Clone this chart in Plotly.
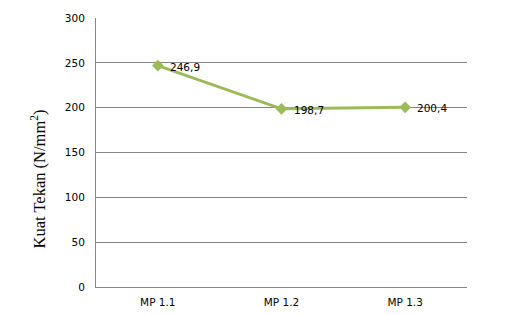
import plotly.graph_objects as go

categories = ["MP 1.1", "MP 1.2", "MP 1.3"]
values = [246.9, 198.7, 200.4]
labels = ["246,9", "198,7", "200,4"]
y_ticks = [0, 50, 100, 150, 200, 250, 300]

xs = list(range(len(categories)))

fig = go.Figure()
fig.add_trace(go.Scatter(
    x=xs, y=values,
    mode="lines+markers",
    line=dict(color="#9BBB59", width=3),
    marker=dict(symbol="diamond", size=9, color="#9BBB59"),
    cliponaxis=False,
    showlegend=False,
))

for xi, v, lab in zip(xs, values, labels):
    fig.add_annotation(
        x=xi, y=v, text=lab, showarrow=False,
        xanchor="left", yanchor="middle", xshift=10, yshift=-1,
        font=dict(family="DejaVu Sans", size=10.5, color="#000000"),
    )

fig.add_annotation(
    xref="paper", yref="paper", x=-0.156, y=0.40,
    text="Kuat Tekan (N/mm<sup>2</sup>)", textangle=-90, showarrow=False,
    xanchor="center", yanchor="middle",
    font=dict(family="Liberation Serif", size=16.5, color="#000000"),
)

fig.update_layout(
    width=505, height=315,
    margin=dict(l=96, r=38, t=18, b=28, autoexpand=False),
    paper_bgcolor="white", plot_bgcolor="white",
    xaxis=dict(
        range=[-0.5, 2.5], automargin=False,
        tickmode="array", tickvals=xs, ticktext=categories,
        showgrid=False, zeroline=False,
        showline=True, linecolor="#868686", linewidth=1,
        ticks="", ticklen=0, ticklabelstandoff=5,
        tickfont=dict(family="DejaVu Sans", size=10.5, color="#000000"),
    ),
    yaxis=dict(
        range=[0, 300], automargin=False,
        tickmode="array", tickvals=y_ticks,
        showgrid=True, gridcolor="#868686", gridwidth=1,
        zeroline=False,
        showline=True, linecolor="#868686", linewidth=1,
        ticks="", ticklabelstandoff=8,
        tickfont=dict(family="DejaVu Sans", size=10.5, color="#000000"),
    ),
)

fig.write_html("out.html")
